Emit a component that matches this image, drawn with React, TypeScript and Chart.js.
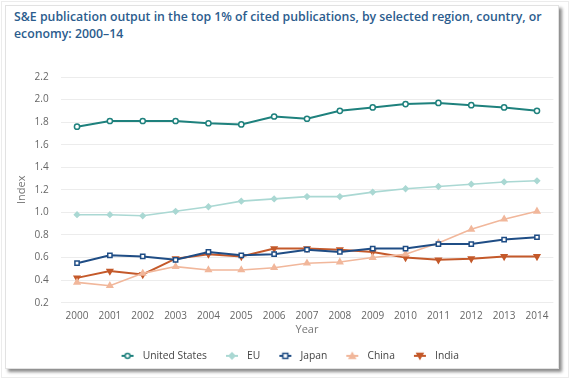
import React, { useEffect, useRef } from "react";
import { Chart, registerables } from "chart.js";

Chart.register(...registerables);

const years = ["2000", "2001", "2002", "2003", "2004", "2005", "2006", "2007", "2008", "2009", "2010", "2011", "2012", "2013", "2014"];
const unitedStates = [1.76, 1.81, 1.81, 1.81, 1.79, 1.78, 1.85, 1.83, 1.90, 1.93, 1.96, 1.97, 1.95, 1.93, 1.90];
const eu = [0.98, 0.98, 0.97, 1.01, 1.05, 1.10, 1.12, 1.14, 1.14, 1.18, 1.21, 1.23, 1.25, 1.27, 1.28];
const japan = [0.55, 0.62, 0.61, 0.58, 0.65, 0.62, 0.63, 0.67, 0.65, 0.68, 0.68, 0.72, 0.72, 0.76, 0.78];
const china = [0.38, 0.35, 0.46, 0.52, 0.49, 0.49, 0.51, 0.55, 0.56, 0.60, 0.63, 0.73, 0.85, 0.94, 1.01];
const india = [0.42, 0.48, 0.45, 0.59, 0.63, 0.61, 0.68, 0.68, 0.67, 0.65, 0.60, 0.58, 0.59, 0.61, 0.61];

const titleText = "S&E publication output in the top 1% of cited publications, by selected region, country, or economy: 2000–14";
const yTitle = "Index";
const xTitle = "Year";

type SeriesStyle = {
  label: string;
  data: number[];
  color: string;
  pointStyle: string;
  rotation: number;
  hollow: boolean;
  radius: number;
  lineWidth: number;
};

const series: SeriesStyle[] = [
  { label: "United States", data: unitedStates, color: "#1e817d", pointStyle: "circle", rotation: 0, hollow: true, radius: 2.6, lineWidth: 2 },
  { label: "EU", data: eu, color: "#aad8d3", pointStyle: "rectRot", rotation: 0, hollow: false, radius: 2.6, lineWidth: 1.6 },
  { label: "Japan", data: japan, color: "#1f4d85", pointStyle: "rect", rotation: 0, hollow: true, radius: 3, lineWidth: 2 },
  { label: "China", data: china, color: "#f1b79b", pointStyle: "triangle", rotation: 0, hollow: false, radius: 3.2, lineWidth: 1.6 },
  { label: "India", data: india, color: "#c4592a", pointStyle: "triangle", rotation: 180, hollow: false, radius: 3.2, lineWidth: 2 },
];

const ICON_W = 25;

function makeIcon(s: SeriesStyle): HTMLCanvasElement {
  const c = document.createElement("canvas");
  c.width = ICON_W;
  c.height = 10;
  const ctx = c.getContext("2d")!;
  ctx.strokeStyle = s.color;
  ctx.lineWidth = 2;
  ctx.beginPath();
  ctx.moveTo(9, 5);
  ctx.lineTo(21, 5);
  ctx.stroke();
  ctx.fillStyle = s.hollow ? "#ffffff" : s.color;
  ctx.lineWidth = 1.5;
  const cx = 15, cy = 5, r = 3;
  ctx.beginPath();
  if (s.pointStyle === "circle") {
    ctx.arc(cx, cy, r - 0.5, 0, Math.PI * 2);
  } else if (s.pointStyle === "rect") {
    ctx.rect(cx - r + 0.5, cy - r + 0.5, 2 * r - 1, 2 * r - 1);
  } else if (s.pointStyle === "rectRot") {
    ctx.moveTo(cx, cy - r);
    ctx.lineTo(cx + r, cy);
    ctx.lineTo(cx, cy + r);
    ctx.lineTo(cx - r, cy);
    ctx.closePath();
  } else {
    const d = s.rotation === 180 ? 1 : -1;
    ctx.moveTo(cx, cy + d * r);
    ctx.lineTo(cx + r, cy - d * r * 0.8);
    ctx.lineTo(cx - r, cy - d * r * 0.8);
    ctx.closePath();
  }
  ctx.fill();
  ctx.stroke();
  return c;
}

export default function App() {
  const ref = useRef<HTMLCanvasElement | null>(null);

  useEffect(() => {
    document.body.style.margin = "0";
    const canvas = ref.current;
    if (!canvas) return;
    const font = "'Open Sans', 'Noto Sans', sans-serif";
    const chart = new Chart(canvas, {
      type: "line",
      data: {
        labels: years,
        datasets: series.map((s) => ({
          label: s.label,
          data: s.data,
          borderColor: s.color,
          backgroundColor: s.color,
          borderWidth: s.lineWidth,
          pointStyle: s.pointStyle as any,
          rotation: s.rotation,
          pointRadius: s.radius,
          pointBackgroundColor: s.hollow ? "#ffffff" : s.color,
          pointBorderColor: s.color,
          pointBorderWidth: 1.5,
          tension: 0,
          fill: false,
        })),
      },
      options: {
        animation: false,
        responsive: false,
        maintainAspectRatio: false,
        layout: { padding: { left: 18, right: 16.6, top: 77, bottom: 8 } },
        plugins: {
          tooltip: { enabled: false },
          legend: {
            position: "bottom",
            labels: {
              usePointStyle: true,
              pointStyleWidth: ICON_W,
              padding: 10,
              color: "#444444",
              font: { family: font, size: 10.3 },
              generateLabels: (ch: any) => {
                const base = Chart.defaults.plugins.legend.labels.generateLabels(ch);
                return base.map((item: any, i: number) => ({
                  ...item,
                  pointStyle: makeIcon(series[i]),
                  rotation: 0,
                }));
              },
            },
          },
        },
        scales: {
          x: {
            offset: true,
            grid: { display: false, drawTicks: false },
            border: { display: false },
            ticks: { color: "#666666", padding: 7, font: { family: font, size: 10 } },
            title: { display: true, text: xTitle, color: "#777777", padding: { top: 4, bottom: 4 }, font: { family: font, size: 11 } },
            afterFit: (s: any) => { s.height = 38; },
          },
          y: {
            min: 0.2,
            max: 2.2,
            grid: { color: "#ececec", lineWidth: 1, drawTicks: false },
            border: { display: false },
            ticks: {
              stepSize: 0.2,
              color: "#666666",
              padding: 12,
              font: { family: font, size: 10 },
              callback: (v: any) => Number(v).toFixed(1),
            },
            title: { display: true, text: yTitle, color: "#777777", padding: { top: -3, bottom: 4 }, font: { family: font, size: 11 } },
            afterFit: (s: any) => { s.width = 42.6; },
          },
        },
      },
    });
    return () => chart.destroy();
  }, []);

  return (
    <div style={{ position: "relative", width: 570, height: 379, background: "#ffffff", overflow: "hidden" }}>
      <div style={{ position: "absolute", left: 1, top: 1, width: 566, height: 375, border: "1px solid #ececec" }} />
      <div
        style={{
          position: "absolute",
          left: 5,
          top: 5,
          width: 552,
          height: 362,
          border: "1px solid #e2e2e2",
          background: "#ffffff",
          boxShadow: "3px 3px 3px rgba(0,0,0,0.45)",
        }}
      />
      <div
        style={{
          position: "absolute",
          left: 14,
          top: 8,
          width: 545,
          fontFamily: "'Open Sans', 'Noto Sans', sans-serif",
          fontWeight: 600,
          fontSize: 12.3,
          lineHeight: "17px",
          color: "#2b5c8d",
        }}
      >
        {titleText}
      </div>
      <canvas ref={ref} width={570} height={379} style={{ position: "absolute", left: 0, top: 0, width: 570, height: 379 }} />
    </div>
  );
}
